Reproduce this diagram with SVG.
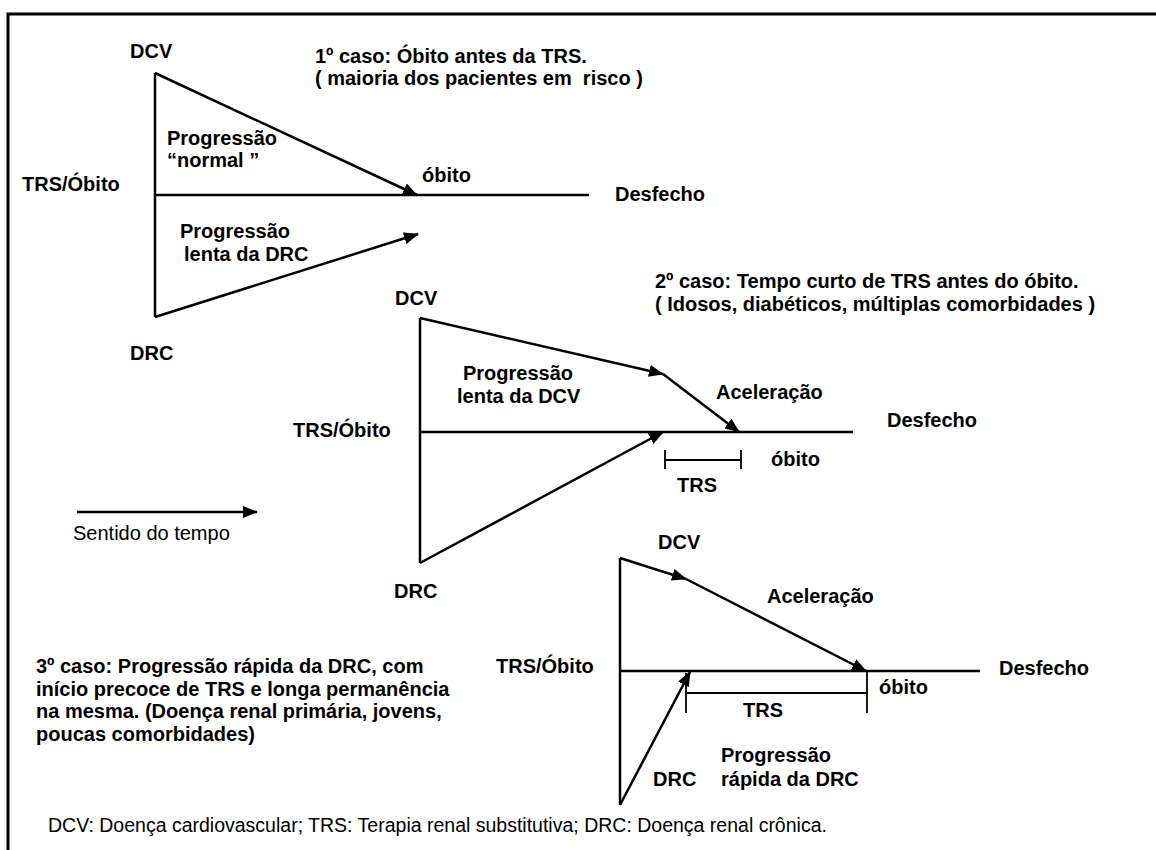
<svg xmlns="http://www.w3.org/2000/svg" width="1156" height="850" viewBox="0 0 1156 850">
<style>
.b{font-family:"Liberation Sans",Arial,sans-serif;font-weight:bold;font-size:20px;fill:#000}
.r{font-family:"Liberation Sans",Arial,sans-serif;font-size:20px;fill:#000}
.ln{stroke:#000;stroke-width:2.5;fill:none}
.br{stroke:#000;stroke-width:1.8;fill:none}
.ar{stroke:#000;stroke-width:2.5;fill:none;marker-end:url(#ah)}
</style>
<defs>
<marker id="ah" viewBox="0 0 15 12" refX="14" refY="6" markerWidth="15" markerHeight="12" markerUnits="userSpaceOnUse" orient="auto">
<path d="M0,0 L15,6 L0,12 z" fill="#000"/>
</marker>
</defs>
<rect width="1156" height="850" fill="#fff"/>
<path d="M8,850 L8,14 L1156,14" stroke="#000" stroke-width="3" fill="none"/>

<g id="case1">
<path class="ln" d="M155,73 L155,317 M155,195 L589,195"/>
<text class="b" x="130" y="58">DCV</text>
<text class="b" x="315" y="63">1º caso: Óbito antes da TRS.</text>
<text class="b" x="315" y="85" xml:space="preserve">( maioria dos pacientes em  risco )</text>
<text class="b" x="167" y="145">Progressão</text>
<text class="b" x="167" y="167">“normal ”</text>
<text class="b" x="22" y="191">TRS/Óbito</text>
<text class="b" x="422" y="182">óbito</text>
<text class="b" x="615" y="201">Desfecho</text>
<text class="b" x="180" y="238">Progressão</text>
<text class="b" x="184" y="261">lenta da DRC</text>
<text class="b" x="130" y="360">DRC</text>
</g>

<g id="case2">
<path class="ln" d="M420,318 L420,563 M420,432 L853,432"/>
<path class="br" d="M665,460 L741,460 M665,450 L665,469 M741,450 L741,469"/>
<text class="b" x="655" y="288">2º caso: Tempo curto de TRS antes do óbito.</text>
<text class="b" x="655" y="311">( Idosos, diabéticos, múltiplas comorbidades )</text>
<text class="b" x="395" y="305">DCV</text>
<text class="b" x="463" y="380">Progressão</text>
<text class="b" x="457" y="403">lenta da DCV</text>
<text class="b" x="293" y="437">TRS/Óbito</text>
<text class="b" x="716" y="399">Aceleração</text>
<text class="b" x="887" y="427">Desfecho</text>
<text class="b" x="771" y="466">óbito</text>
<text class="b" x="677" y="492">TRS</text>
<text class="b" x="394" y="598">DRC</text>
</g>

<g id="legend-time">
<text class="r" x="73" y="540">Sentido do tempo</text>
</g>

<g id="case3">
<path class="ln" d="M620,558 L620,805 M620,671 L980,671"/>
<path class="br" d="M686,693 L867,693 M686,673 L686,713 M867,671 L867,713"/>
<text class="b" x="658" y="549">DCV</text>
<text class="b" x="767" y="603">Aceleração</text>
<text class="b" x="999" y="675">Desfecho</text>
<text class="b" x="496" y="673">TRS/Óbito</text>
<text class="b" x="879" y="694">óbito</text>
<text class="b" x="743" y="717">TRS</text>
<text class="b" x="721" y="762">Progressão</text>
<text class="b" x="721" y="786">rápida da DRC</text>
<text class="b" x="653" y="786">DRC</text>
<text class="b" x="36" y="673">3º caso: Progressão rápida da DRC, com</text>
<text class="b" x="36" y="696">início precoce de TRS e longa permanência</text>
<text class="b" x="36" y="718">na mesma. (Doença renal primária, jovens,</text>
<text class="b" x="36" y="741">poucas comorbidades)</text>
</g>

<g id="footer">
<text class="r" x="48" y="832" style="font-size:19.5px">DCV: Doença cardiovascular; TRS: Terapia renal substitutiva; DRC: Doença renal crônica.</text>
</g>

<g id="connectors">
<path class="ar" d="M155,73 L417,195"/>
<path class="ar" d="M155,317 L418,234"/>
<path class="ar" d="M420,318 L663,374"/>
<path class="ar" d="M663,374 L739,432"/>
<path class="ar" d="M420,563 L663,432"/>
<path class="ar" d="M77,512 L257,512"/>
<path class="ar" d="M620,558 L686,579"/>
<path class="ar" d="M686,579 L866,671"/>
<path class="ar" d="M620,805 L690,672"/>
</g>
</svg>
